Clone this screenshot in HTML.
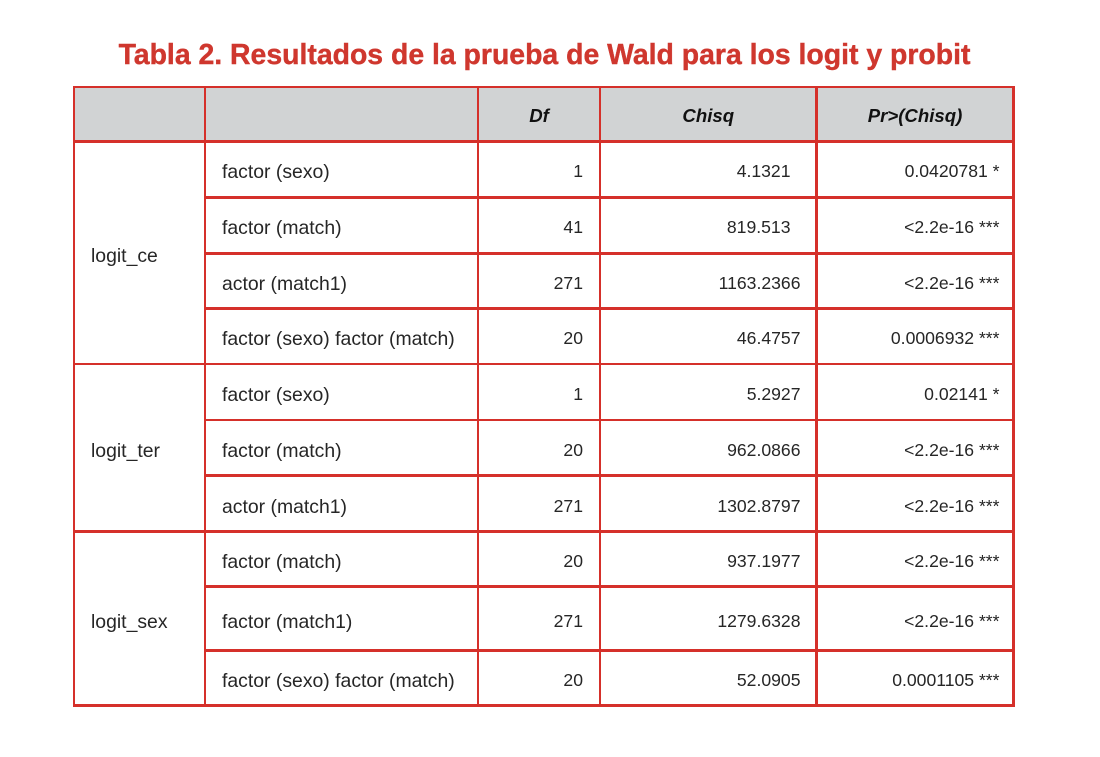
<!DOCTYPE html>
<html>
<head>
<meta charset="utf-8">
<style>
  html,body{margin:0;padding:0;background:#fff;}
  body{width:1100px;height:757px;position:relative;overflow:hidden;font-family:"Liberation Sans",sans-serif;}
  .title{position:absolute;left:0;width:1089px;top:35px;text-align:center;color:#cf372e;font-weight:bold;font-size:28.4px;line-height:40px;white-space:nowrap;-webkit-text-stroke:0.4px #cf372e;}
  .hdr{position:absolute;background:#d1d3d4;}
  .h{position:absolute;height:2.6px;background:#d5302a;}
  .v{position:absolute;width:2.6px;background:#d5302a;top:85.7px;height:1021px;}
  .c{position:absolute;display:flex;align-items:center;box-sizing:border-box;color:#262626;white-space:nowrap;padding-top:5px;}
  .lab{font-size:19.4px;padding-left:17px;padding-top:7px;}
  .num{font-size:17.6px;justify-content:flex-end;}
  .th{font-size:18.6px;font-weight:bold;font-style:italic;justify-content:center;color:#111;padding-top:3px;}
</style>
</head>
<body>
<div class="title">Tabla 2. Resultados de la prueba de Wald para los logit y probit</div>

<!-- header background -->
<div class="hdr" style="left:74px;top:87px;width:940px;height:55px;"></div>

<!-- horizontal lines -->
<div class="h" style="left:72.7px;width:942.2px;top:85.7px;"></div>
<div class="h" style="left:72.7px;width:942.2px;top:140.2px;"></div>
<div class="h" style="left:205px;width:809.9px;top:196px;"></div>
<div class="h" style="left:205px;width:809.9px;top:252px;"></div>
<div class="h" style="left:205px;width:809.9px;top:307.2px;"></div>
<div class="h" style="left:72.7px;width:942.2px;top:362.7px;"></div>
<div class="h" style="left:205px;width:809.9px;top:418.7px;"></div>
<div class="h" style="left:205px;width:809.9px;top:474.2px;"></div>
<div class="h" style="left:72.7px;width:942.2px;top:530.4px;"></div>
<div class="h" style="left:205px;width:809.9px;top:585.4px;"></div>
<div class="h" style="left:205px;width:809.9px;top:649.4px;"></div>
<div class="h" style="left:72.7px;width:942.2px;top:704.4px;"></div>

<!-- vertical lines -->
<div class="v" style="left:72.7px;height:621.3px;"></div>
<div class="v" style="left:203.7px;height:621.3px;"></div>
<div class="v" style="left:476.7px;height:621.3px;"></div>
<div class="v" style="left:598.7px;height:621.3px;"></div>
<div class="v" style="left:815.2px;height:621.3px;"></div>
<div class="v" style="left:1012.2px;height:621.3px;"></div>

<!-- header text -->
<div class="c th" style="left:478px;width:122px;top:87px;height:54.5px;">Df</div>
<div class="c th" style="left:600px;width:216.5px;top:87px;height:54.5px;">Chisq</div>
<div class="c th" style="left:816.5px;width:197px;top:87px;height:54.5px;">Pr&gt;(Chisq)</div>

<!-- group labels -->
<div class="c lab" style="left:74px;width:131px;top:141.5px;height:222.5px;">logit_ce</div>
<div class="c lab" style="left:74px;width:131px;top:364px;height:167.7px;">logit_ter</div>
<div class="c lab" style="left:74px;width:131px;top:531.7px;height:174px;">logit_sex</div>

<!-- row 1 -->
<div class="c lab" style="left:205px;width:273px;top:141.5px;height:55.8px;">factor (sexo)</div>
<div class="c num" style="left:478px;width:122px;top:141.5px;height:55.8px;padding-right:17px;">1</div>
<div class="c num" style="left:600px;width:216.5px;top:141.5px;height:55.8px;padding-right:26px;">4.1321</div>
<div class="c num" style="left:816.5px;width:197px;top:141.5px;height:55.8px;padding-right:14px;">0.0420781 *</div>
<!-- row 2 -->
<div class="c lab" style="left:205px;width:273px;top:197.3px;height:56px;">factor (match)</div>
<div class="c num" style="left:478px;width:122px;top:197.3px;height:56px;padding-right:17px;">41</div>
<div class="c num" style="left:600px;width:216.5px;top:197.3px;height:56px;padding-right:26px;">819.513</div>
<div class="c num" style="left:816.5px;width:197px;top:197.3px;height:56px;padding-right:14px;">&lt;2.2e-16 ***</div>
<!-- row 3 -->
<div class="c lab" style="left:205px;width:273px;top:253.3px;height:55.2px;">actor (match1)</div>
<div class="c num" style="left:478px;width:122px;top:253.3px;height:55.2px;padding-right:17px;">271</div>
<div class="c num" style="left:600px;width:216.5px;top:253.3px;height:55.2px;padding-right:16px;">1163.2366</div>
<div class="c num" style="left:816.5px;width:197px;top:253.3px;height:55.2px;padding-right:14px;">&lt;2.2e-16 ***</div>
<!-- row 4 -->
<div class="c lab" style="left:205px;width:273px;top:308.5px;height:55.5px;">factor (sexo) factor (match)</div>
<div class="c num" style="left:478px;width:122px;top:308.5px;height:55.5px;padding-right:17px;">20</div>
<div class="c num" style="left:600px;width:216.5px;top:308.5px;height:55.5px;padding-right:16px;">46.4757</div>
<div class="c num" style="left:816.5px;width:197px;top:308.5px;height:55.5px;padding-right:14px;">0.0006932 ***</div>
<!-- row 5 -->
<div class="c lab" style="left:205px;width:273px;top:364px;height:56px;">factor (sexo)</div>
<div class="c num" style="left:478px;width:122px;top:364px;height:56px;padding-right:17px;">1</div>
<div class="c num" style="left:600px;width:216.5px;top:364px;height:56px;padding-right:16px;">5.2927</div>
<div class="c num" style="left:816.5px;width:197px;top:364px;height:56px;padding-right:14px;">0.02141 *</div>
<!-- row 6 -->
<div class="c lab" style="left:205px;width:273px;top:420px;height:55.5px;">factor (match)</div>
<div class="c num" style="left:478px;width:122px;top:420px;height:55.5px;padding-right:17px;">20</div>
<div class="c num" style="left:600px;width:216.5px;top:420px;height:55.5px;padding-right:16px;">962.0866</div>
<div class="c num" style="left:816.5px;width:197px;top:420px;height:55.5px;padding-right:14px;">&lt;2.2e-16 ***</div>
<!-- row 7 -->
<div class="c lab" style="left:205px;width:273px;top:475.5px;height:56.2px;">actor (match1)</div>
<div class="c num" style="left:478px;width:122px;top:475.5px;height:56.2px;padding-right:17px;">271</div>
<div class="c num" style="left:600px;width:216.5px;top:475.5px;height:56.2px;padding-right:16px;">1302.8797</div>
<div class="c num" style="left:816.5px;width:197px;top:475.5px;height:56.2px;padding-right:14px;">&lt;2.2e-16 ***</div>
<!-- row 8 -->
<div class="c lab" style="left:205px;width:273px;top:531.7px;height:55px;">factor (match)</div>
<div class="c num" style="left:478px;width:122px;top:531.7px;height:55px;padding-right:17px;">20</div>
<div class="c num" style="left:600px;width:216.5px;top:531.7px;height:55px;padding-right:16px;">937.1977</div>
<div class="c num" style="left:816.5px;width:197px;top:531.7px;height:55px;padding-right:14px;">&lt;2.2e-16 ***</div>
<!-- row 9 -->
<div class="c lab" style="left:205px;width:273px;top:586.7px;height:64px;">factor (match1)</div>
<div class="c num" style="left:478px;width:122px;top:586.7px;height:64px;padding-right:17px;">271</div>
<div class="c num" style="left:600px;width:216.5px;top:586.7px;height:64px;padding-right:16px;">1279.6328</div>
<div class="c num" style="left:816.5px;width:197px;top:586.7px;height:64px;padding-right:14px;">&lt;2.2e-16 ***</div>
<!-- row 10 -->
<div class="c lab" style="left:205px;width:273px;top:650.7px;height:55px;">factor (sexo) factor (match)</div>
<div class="c num" style="left:478px;width:122px;top:650.7px;height:55px;padding-right:17px;">20</div>
<div class="c num" style="left:600px;width:216.5px;top:650.7px;height:55px;padding-right:16px;">52.0905</div>
<div class="c num" style="left:816.5px;width:197px;top:650.7px;height:55px;padding-right:14px;">0.0001105 ***</div>
</body>
</html>
